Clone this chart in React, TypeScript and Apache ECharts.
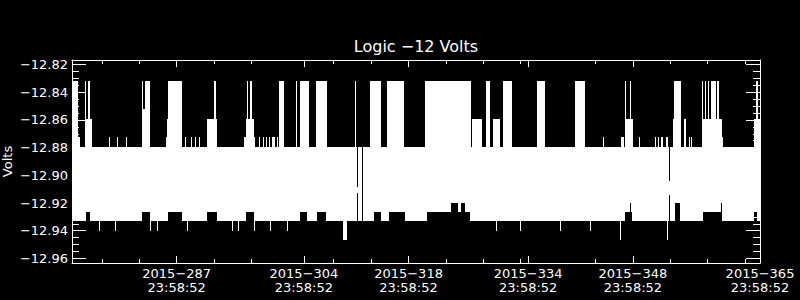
import { useEffect, useRef } from "react";
import * as echarts from "echarts";

// ---- axis data ----
// time axis: days since 2015-273 23:58:52
const startDay = 273;
const xMax = 92;
const tickDays = [287, 304, 318, 334, 348, 365];
const tickTime = "23:58:52";
const minorXTicks = [4, 9, 19, 24, 35, 40, 50, 55, 60, 70, 80, 85, 90];

const yMin = -12.9633;
const yMax = -12.8167;
const yMajor = [-12.82, -12.84, -12.86, -12.88, -12.9, -12.92, -12.94, -12.96];
const yMinor = [
  -12.825, -12.83, -12.835, -12.845, -12.85, -12.855, -12.865, -12.87, -12.875,
  -12.885, -12.89, -12.895, -12.905, -12.91, -12.915, -12.925, -12.93, -12.935,
  -12.945, -12.95, -12.955,
];

// ---- signal data (volts) ----
// the readings flip rapidly between the upper and lower edge of a band
const bandTop = -12.8793;
const bandBottom = -12.9333;

// upper excursions: [startDay, endDay, volts]
const upperSpikes: [number, number, number][] = [
  [0, 0.74, -12.832], [0.74, 1.07, -12.8725], [1.74, 1.87, -12.832], [1.87, 2.14, -12.859],
  [2.14, 2.47, -12.832], [2.47, 2.61, -12.859], [4.95, 5.04, -12.8725], [6.02, 6.11, -12.8725],
  [7.22, 7.32, -12.8725], [9.36, 9.54, -12.832], [9.54, 9.76, -12.8523], [9.76, 10.43, -12.832],
  [12.57, 12.7, -12.8725], [12.7, 12.84, -12.859], [12.84, 14.71, -12.832],
  [15.18, 15.27, -12.8725], [15.91, 16.01, -12.8725], [16.45, 16.54, -12.8725], [16.98, 17.08, -12.8725],
  [18.05, 19.39, -12.859], [18.99, 19.26, -12.832],
  [23.0, 24.47, -12.8725], [23.27, 24.34, -12.859], [23.4, 23.54, -12.832], [23.8, 24.07, -12.832],
  [25.01, 25.14, -12.8725], [25.54, 25.68, -12.8725], [25.94, 26.08, -12.8725], [26.34, 26.48, -12.8725],
  [26.75, 27.15, -12.8725], [27.41, 27.55, -12.8725], [27.68, 28.35, -12.832],
  [29.96, 30.09, -12.832], [30.49, 31.69, -12.832], [32.63, 34.1, -12.832], [37.85, 37.98, -12.832],
  [39.85, 41.32, -12.832], [42.12, 44.4, -12.832], [47.21, 53.36, -12.832], [53.49, 54.83, -12.859],
  [55.36, 55.9, -12.832], [56.3, 57.24, -12.859], [57.64, 58.84, -12.832], [62.18, 63.25, -12.832],
  [67.27, 68.6, -12.832],
  [71.01, 71.14, -12.8725], [73.42, 73.82, -12.8725], [73.95, 75.02, -12.859], [73.95, 74.09, -12.832],
  [74.62, 74.76, -12.832], [75.82, 75.96, -12.8725], [77.96, 78.1, -12.8725], [78.37, 78.5, -12.8725],
  [78.77, 79.03, -12.8725], [79.44, 79.7, -12.8725], [80.37, 81.44, -12.859], [80.5, 81.44, -12.832],
  [81.84, 82.11, -12.859], [82.51, 82.65, -12.8725], [82.78, 82.91, -12.8725],
  [84.25, 86.92, -12.859], [84.25, 84.38, -12.832], [84.65, 84.78, -12.832], [85.05, 85.18, -12.832],
  [85.45, 86.12, -12.832], [86.26, 86.52, -12.832], [86.92, 87.06, -12.8725],
  [91.2, 92, -12.859], [91.47, 91.74, -12.832],
];

// stretches where the lower edge stays higher: [startDay, endDay, volts]
const shallowLows: [number, number, number][] = [
  [1.87, 2.41, -12.9265], [9.36, 10.43, -12.9265], [12.84, 14.71, -12.9265], [18.05, 19.39, -12.9265],
  [23.27, 24.34, -12.9265], [30.49, 31.43, -12.9265], [32.76, 33.97, -12.9265], [40.38, 41.32, -12.9265],
  [42.39, 44.53, -12.9265], [47.47, 53.22, -12.9265], [50.68, 51.62, -12.9198], [52.02, 52.55, -12.9198],
  [73.95, 74.89, -12.9265], [74.62, 74.76, -12.9198], [80.64, 81.31, -12.9198],
  [84.38, 86.92, -12.9265], [86.79, 86.92, -12.9198], [91.2, 91.6, -12.9265],
];

// lower excursions: [startDay, endDay, volts]
const lowerSpikes: [number, number, number][] = [
  [3.61, 3.74, -12.94], [5.75, 5.88, -12.94], [10.43, 10.56, -12.94], [11.37, 11.5, -12.94],
  [15.38, 15.51, -12.94], [21.4, 21.53, -12.94], [22.2, 22.33, -12.94], [24.34, 24.47, -12.94],
  [26.48, 26.61, -12.94], [28.75, 28.88, -12.94], [36.24, 36.77, -12.9468], [56.7, 56.83, -12.94],
  [59.91, 60.04, -12.94], [65.26, 65.39, -12.94], [69.27, 69.4, -12.94],
  [73.28, 73.42, -12.9468], [79.57, 79.7, -12.9468],
];

// stretches with a narrow range (or none, when top equals bottom): [start, end, top, bottom]
const narrowSpans: [number, number, number, number][] = [
  [38.05, 38.2, -12.9083, -12.9128], [38.72, 38.85, -12.9, -12.9], [79.8, 79.92, -12.9041, -12.9142],
];

type Run = [number, number, number, number]; // start, end, low, high

function covers(s: number, e: number, a: number, b: number) {
  const ov = Math.min(e, b) - Math.max(s, a);
  const c = (s + e) / 2;
  return ov >= 0.5 * (b - a) || (c >= a && c < b);
}

// envelope of the readings per screen-sized time bin, merged into runs
function buildRuns(): Run[] {
  const N = 688;
  const w = xMax / N;
  const runs: Run[] = [];
  for (let i = 0; i < N; i++) {
    const a = i * w;
    const b = a + w;
    let hi = bandTop;
    let lo = bandBottom;
    for (const [s, e, lv] of upperSpikes) if (covers(s, e, a, b) && lv > hi) hi = lv;
    for (const [s, e, lv] of shallowLows) if (covers(s, e, a, b) && lv > lo) lo = lv;
    for (const [s, e, lv] of lowerSpikes) if (covers(s, e, a, b) && lv < lo) lo = lv;
    const nar = narrowSpans.find(([s, e]) => covers(s, e, a, b));
    if (nar) {
      if (nar[2] <= nar[3]) continue;
      hi = nar[2];
      lo = nar[3];
    }
    const last = runs[runs.length - 1];
    if (last && Math.abs(last[1] - a) < 1e-9 && last[2] === lo && last[3] === hi) last[1] = b;
    else runs.push([a, b, lo, hi]);
  }
  return runs;
}

const FONT = "DejaVu Sans";
const WHITE = "#ffffff";

export default function App() {
  const ref = useRef<HTMLDivElement>(null);
  useEffect(() => {
    if (!ref.current) return;
    const chart = echarts.init(ref.current, undefined, { renderer: "svg" });
    const majorX = tickDays.map((d) => d - startDay);
    const baseX = {
      type: "value" as const,
      min: 0,
      max: xMax,
      gridIndex: 0,
      splitLine: { show: false },
    };
    const baseY = {
      type: "value" as const,
      min: yMin,
      max: yMax,
      gridIndex: 0,
      splitLine: { show: false },
    };
    const line = { show: true, onZero: false, lineStyle: { color: WHITE, width: 1 } };
    const noLine = { show: false, onZero: false };
    chart.setOption({
      animation: false,
      backgroundColor: "#000000",
      grid: { left: 72, right: 40, top: 60, bottom: 37 },
      xAxis: [
        {
          ...baseX,
          position: "bottom",
          axisLine: line,
          axisTick: { show: true, inside: true, length: 7, customValues: majorX, lineStyle: { color: WHITE } },
          axisLabel: {
            show: true,
            customValues: majorX,
            color: WHITE,
            fontFamily: FONT,
            fontSize: 13,
            lineHeight: 14,
            margin: 3,
            formatter: (v: number) => `2015\u2212${Math.round(v) + startDay}\n${tickTime}`,
          },
        },
        {
          ...baseX,
          position: "bottom",
          axisLine: noLine,
          axisTick: { show: true, inside: true, length: 4, customValues: minorXTicks, lineStyle: { color: WHITE } },
          axisLabel: { show: false },
        },
        {
          ...baseX,
          position: "top",
          axisLine: line,
          axisTick: { show: true, inside: true, length: 7, customValues: majorX, lineStyle: { color: WHITE } },
          axisLabel: { show: false },
        },
        {
          ...baseX,
          position: "top",
          axisLine: noLine,
          axisTick: { show: true, inside: true, length: 4, customValues: minorXTicks, lineStyle: { color: WHITE } },
          axisLabel: { show: false },
        },
      ],
      yAxis: [
        {
          ...baseY,
          position: "left",
          axisLine: line,
          axisTick: { show: true, inside: true, length: 14, customValues: yMajor, lineStyle: { color: WHITE } },
          axisLabel: {
            show: true,
            customValues: yMajor,
            color: WHITE,
            fontFamily: FONT,
            fontSize: 13,
            margin: 4,
            formatter: (v: number) => v.toFixed(2).replace("-", "\u2212"),
          },
        },
        {
          ...baseY,
          position: "left",
          axisLine: noLine,
          axisTick: { show: true, inside: true, length: 7, customValues: yMinor, lineStyle: { color: WHITE } },
          axisLabel: { show: false },
        },
        {
          ...baseY,
          position: "right",
          axisLine: line,
          axisTick: { show: true, inside: true, length: 14, customValues: yMajor, lineStyle: { color: WHITE } },
          axisLabel: { show: false },
        },
        {
          ...baseY,
          position: "right",
          axisLine: noLine,
          axisTick: { show: true, inside: true, length: 7, customValues: yMinor, lineStyle: { color: WHITE } },
          axisLabel: { show: false },
        },
      ],
      graphic: [
        {
          type: "text",
          x: 416,
          y: 46,
          style: {
            text: "Logic \u221212 Volts",
            fill: WHITE,
            fontFamily: FONT,
            fontSize: 16,
            align: "center",
            verticalAlign: "middle",
          },
        },
        {
          type: "text",
          x: 7,
          y: 161.5,
          rotation: Math.PI / 2,
          style: {
            text: "Volts",
            fill: WHITE,
            fontFamily: FONT,
            fontSize: 13,
            align: "center",
            verticalAlign: "middle",
          },
        },
      ],
      series: [
        {
          type: "custom",
          xAxisIndex: 0,
          yAxisIndex: 0,
          silent: true,
          clip: true,
          data: buildRuns(),
          encode: { x: [0, 1], y: [2, 3] },
          renderItem: (_params: any, api: any) => {
            const p0 = api.coord([api.value(0), api.value(3)]);
            const p1 = api.coord([api.value(1), api.value(2)]);
            const x0 = Math.round(p0[0]);
            const x1 = Math.round(p1[0]);
            const y0 = Math.round(p0[1]);
            const y1 = Math.round(p1[1]);
            return {
              type: "rect",
              shape: { x: x0, y: y0, width: Math.max(1, x1 - x0), height: Math.max(1, y1 - y0) },
              style: { fill: WHITE },
            };
          },
        },
      ],
    });
    return () => chart.dispose();
  }, []);
  return (
    <div
      ref={ref}
      style={{ position: "fixed", left: 0, top: 0, width: 800, height: 300, background: "#000" }}
    />
  );
}
